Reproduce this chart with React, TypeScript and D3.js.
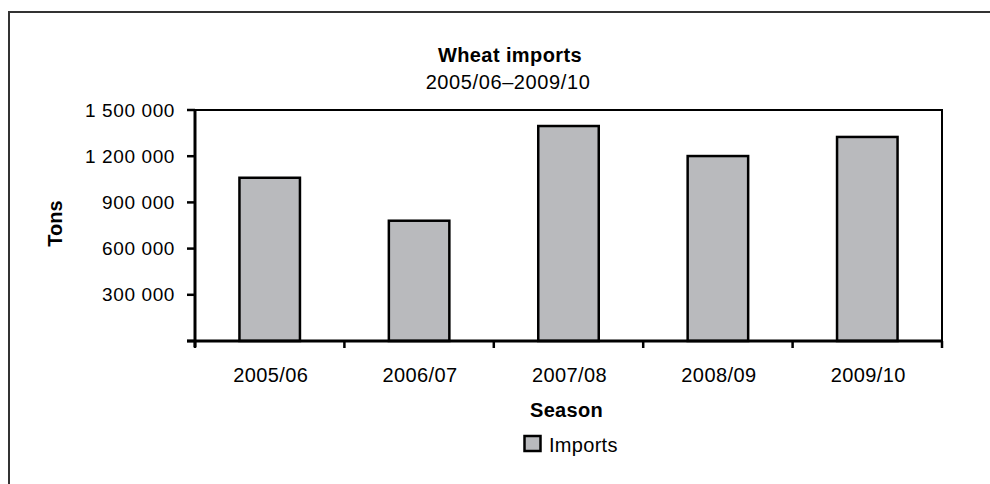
import React from "react";
import * as d3 from "d3";

// Wheat imports by season (tons)
const seasons: string[] = ["2005/06", "2006/07", "2007/08", "2008/09", "2009/10"];
const imports: number[] = [1060000, 781000, 1396000, 1201000, 1325000];
const yTicks: number[] = [0, 300000, 600000, 900000, 1200000, 1500000];

const W = 990;
const H = 484;
const margin = { left: 195, right: 942, top: 110, bottom: 341 };
const FONT = "'Liberation Sans', Arial, sans-serif";
const BAR_FILL = "#b9babd";

const fmt = (v: number) => d3.format(",")(v).replace(/,/g, " ");

export default function App() {
  const x = d3
    .scaleBand<string>()
    .domain(seasons)
    .range([margin.left, margin.right])
    .padding(0);
  const y = d3
    .scaleLinear()
    .domain([0, 1500000])
    .range([margin.bottom, margin.top]);

  const bw = x.bandwidth() * 0.405;
  const boundaries = seasons.map((s) => x(s) as number).concat([margin.right]);
  const cx = (margin.left + margin.right) / 2;

  return (
    <svg
      width={W}
      height={H}
      style={{ position: "absolute", left: 0, top: 0, background: "#fff" }}
      fontFamily={FONT}
    >
      {/* outer chart frame */}
      <rect x={9} y={12} width={1100} height={600} fill="#fff" stroke="#333" strokeWidth={2} />

      {/* titles */}
      <text x={510} y={62} textAnchor="middle" fontSize={20} fontWeight="bold" letterSpacing={0.4}>
        Wheat imports
      </text>
      <text x={508} y={89} textAnchor="middle" fontSize={20} letterSpacing={0.6}>
        2005/06–2009/10
      </text>

      {/* plot area top/right border */}
      <path
        d={`M${margin.left},${margin.top}H${margin.right}V${margin.bottom}`}
        fill="none"
        stroke="#000"
        strokeWidth={2}
      />

      {/* bars */}
      {seasons.map((s, i) => {
        const bx = (x(s) as number) + x.bandwidth() / 2 - bw / 2;
        return (
          <rect
            key={s}
            x={bx}
            y={y(imports[i])}
            width={bw}
            height={y(0) - y(imports[i])}
            fill={BAR_FILL}
            stroke="#000"
            strokeWidth={2.5}
          />
        );
      })}

      {/* y axis */}
      <line x1={margin.left} x2={margin.left} y1={margin.top} y2={margin.bottom + 6} stroke="#000" strokeWidth={3} />
      {yTicks.map((t) => (
        <g key={t}>
          <line x1={margin.left - 8} x2={margin.left} y1={y(t)} y2={y(t)} stroke="#000" strokeWidth={2.5} />
          {t > 0 && (
            <text x={175} y={y(t)} dy="0.35em" textAnchor="end" fontSize={19} letterSpacing={0.6}>
              {fmt(t)}
            </text>
          )}
        </g>
      ))}

      {/* x axis */}
      <line x1={margin.left - 8} x2={margin.right} y1={margin.bottom} y2={margin.bottom} stroke="#000" strokeWidth={3} />
      {boundaries.map((b, i) => (
        <line key={i} x1={b} x2={b} y1={margin.bottom} y2={margin.bottom + 7} stroke="#000" strokeWidth={2.5} />
      ))}
      {seasons.map((s) => (
        <text
          key={s}
          x={(x(s) as number) + x.bandwidth() / 2 + 1}
          y={382}
          textAnchor="middle"
          fontSize={20}
          letterSpacing={0.4}
        >
          {s}
        </text>
      ))}

      {/* axis titles */}
      <text
        transform={`translate(62,${(margin.top + margin.bottom) / 2 - 2}) rotate(-90)`}
        textAnchor="middle"
        fontSize={20}
        fontWeight="bold"
      >
        Tons
      </text>
      <text x={cx - 2} y={417} textAnchor="middle" fontSize={20} fontWeight="bold" letterSpacing={0.3}>
        Season
      </text>

      {/* legend */}
      <rect x={524.5} y={436} width={16} height={15} fill={BAR_FILL} stroke="#000" strokeWidth={2.5} />
      <text x={549} y={451.5} fontSize={20} letterSpacing={0.3}>
        Imports
      </text>
    </svg>
  );
}
